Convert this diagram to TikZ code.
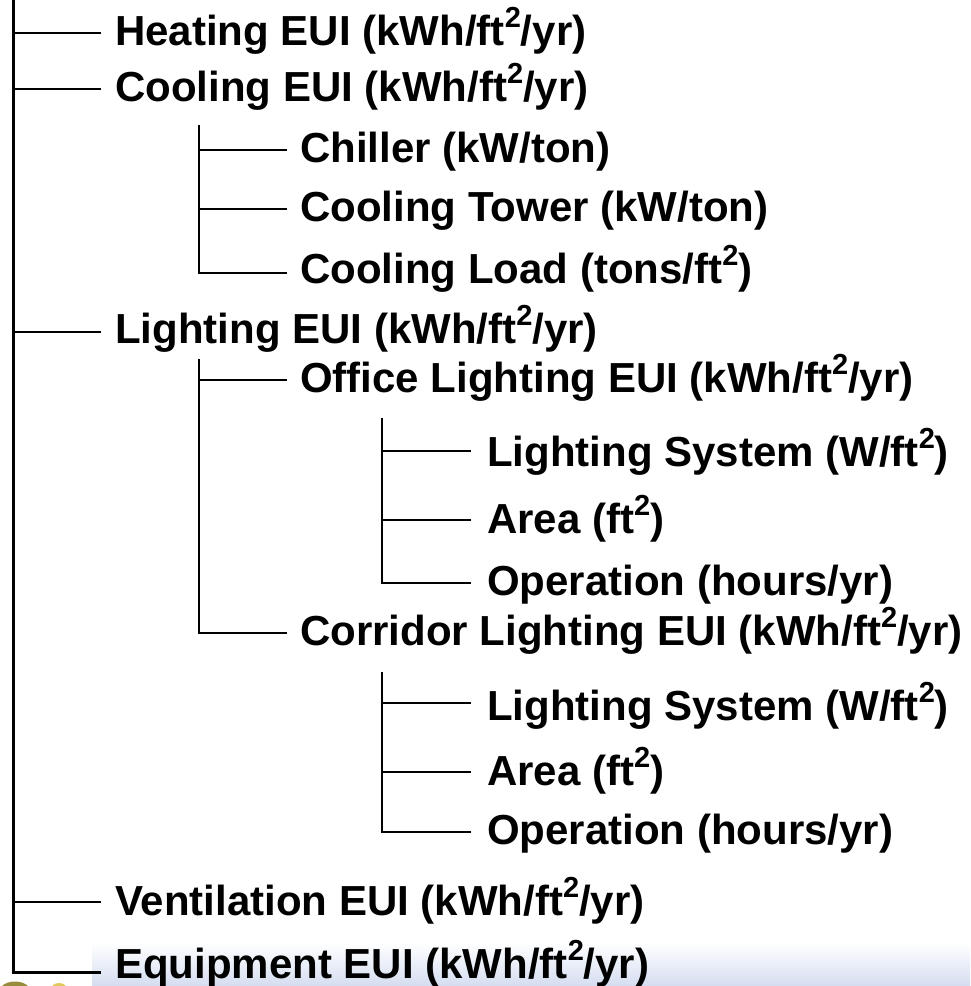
\documentclass[tikz,border=0pt]{standalone}
\usepackage{fontspec}
\setmainfont{Liberation Sans}
\newcommand\sqft{\raisebox{0.41em}{\fontsize{29}{29}\selectfont 2}}
\definecolor{bandblue}{RGB}{212,221,240}
\definecolor{logoolive}{RGB}{150,140,60}
\definecolor{logoyellow}{RGB}{225,200,90}
\begin{document}
\begin{tikzpicture}[x=1pt,y=-1pt,
  lbl/.style={anchor=base west, inner sep=0pt, font=\fontsize{42}{50}\selectfont\bfseries},
  br/.style={line width=2.6pt, draw=black}]
\useasboundingbox (0,0) rectangle (970,986);
% bottom band
\shade[top color=white, bottom color=bandblue] (92,943) rectangle (970,986);
% logo fragment
\fill[logoolive] (2,986) .. controls (8,980) and (22,980) .. (28,986) -- cycle;
\fill[logoyellow] (52,986) .. controls (55,982) and (63,982) .. (66,986) -- cycle;
% level 0 (baselines)
\node[lbl] (heat) at (115,45) {Heating EUI (kWh/ft\sqft/yr)};
\node[lbl] (cool) at (115,101) {Cooling EUI (kWh/ft\sqft/yr)};
\node[lbl] (light) at (115,343) {Lighting EUI (kWh/ft\sqft/yr)};
\node[lbl] (vent) at (115,915) {Ventilation EUI (kWh/ft\sqft/yr)};
\node[lbl] (equip) at (115,978) {Equipment EUI (kWh/ft\sqft/yr)};
% level 1
\node[lbl] (chill) at (300,162) {Chiller (kW/ton)};
\node[lbl] (tower) at (300,221) {Cooling Tower (kW/ton)};
\node[lbl] (load) at (300,283) {Cooling Load (tons/ft\sqft)};
\node[lbl] (office) at (300,392) {Office Lighting EUI (kWh/ft\sqft/yr)};
\node[lbl] (corr) at (300,645) {Corridor Lighting EUI (kWh/ft\sqft/yr)};
% level 2
\node[lbl] (ols) at (487,466) {Lighting System (W/ft\sqft)};
\node[lbl] (oarea) at (487,533) {Area (ft\sqft)};
\node[lbl] (oop) at (487,595) {Operation (hours/yr)};
\node[lbl] (cls) at (487,720) {Lighting System (W/ft\sqft)};
\node[lbl] (carea) at (487,785) {Area (ft\sqft)};
\node[lbl] (cop) at (487,844) {Operation (hours/yr)};
% trunk tops
\coordinate (t0) at (13.5,0);
\coordinate (t1) at (199,125);
\coordinate (t2) at (199,359);
\coordinate (t3) at (382,418);
\coordinate (t4) at (382,672);
% connector ends near the labels
\coordinate (heatL) at ([xshift=-14pt,yshift=12pt]heat.base west);
\coordinate (coolL) at ([xshift=-14pt,yshift=12pt]cool.base west);
\coordinate (lightL) at ([xshift=-14pt,yshift=11pt]light.base west);
\coordinate (ventL) at ([xshift=-14pt,yshift=13pt]vent.base west);
\coordinate (equipL) at ([xshift=-14pt,yshift=6pt]equip.base west);
\coordinate (chillL) at ([xshift=-13pt,yshift=12pt]chill.base west);
\coordinate (towerL) at ([xshift=-13pt,yshift=12pt]tower.base west);
\coordinate (loadL) at ([xshift=-13pt,yshift=10pt]load.base west);
\coordinate (officeL) at ([xshift=-13pt,yshift=12pt]office.base west);
\coordinate (corrL) at ([xshift=-13pt,yshift=12pt]corr.base west);
\coordinate (olsL) at ([xshift=-16pt,yshift=15pt]ols.base west);
\coordinate (oareaL) at ([xshift=-16pt,yshift=13pt]oarea.base west);
\coordinate (oopL) at ([xshift=-16pt,yshift=12pt]oop.base west);
\coordinate (clsL) at ([xshift=-16pt,yshift=17pt]cls.base west);
\coordinate (careaL) at ([xshift=-16pt,yshift=13pt]carea.base west);
\coordinate (copL) at ([xshift=-16pt,yshift=12pt]cop.base west);
% level 0 connectors
\draw[br] (t0 |- heatL) -- (heatL);
\draw[br] (t0 |- coolL) -- (coolL);
\draw[br] (t0 |- lightL) -- (lightL);
\draw[br] (t0 |- ventL) -- (ventL);
\draw[br, line width=3pt] (t0) |- (equipL);
% cooling children
\draw[br] (t1 |- chillL) -- (chillL);
\draw[br] (t1 |- towerL) -- (towerL);
\draw[br] (t1) |- (loadL);
% lighting children
\draw[br] (t2 |- officeL) -- (officeL);
\draw[br] (t2) |- (corrL);
% office children
\draw[br] (t3 |- olsL) -- (olsL);
\draw[br] (t3 |- oareaL) -- (oareaL);
\draw[br] (t3) |- (oopL);
% corridor children
\draw[br] (t4 |- clsL) -- (clsL);
\draw[br] (t4 |- careaL) -- (careaL);
\draw[br] (t4) |- (copL);
\end{tikzpicture}
\end{document}
